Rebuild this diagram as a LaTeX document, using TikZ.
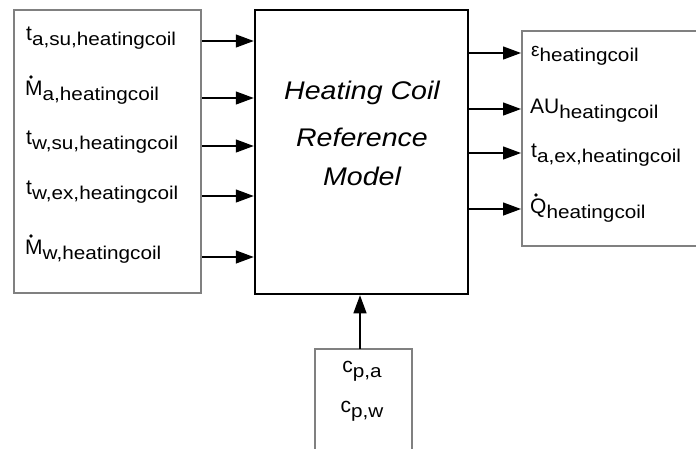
\documentclass[tikz,border=0pt]{standalone}
\usepackage{fontspec}
\setmainfont{Liberation Sans}
\newfontfamily\subfont[FakeStretch=1.12]{Liberation Sans}
\usetikzlibrary{arrows.meta}
\newcommand\mainsz{\fontsize{21}{21}\selectfont}
\newcommand\sbs[1]{\raisebox{-5pt}{\subfont\fontsize{18.5}{18.5}\selectfont #1}}
\begin{document}
\begin{tikzpicture}[x=1pt,y=-1pt,
  graybox/.style={draw=black!50, line width=2pt, fill=white, inner sep=0pt},
  mainbox/.style={draw=black, line width=2.5pt, fill=white, inner sep=0pt},
  arr/.style={line width=1.3pt, -{Triangle[length=18pt,width=13pt]}},
  lbl/.style={anchor=base west, inner sep=0pt, font=\mainsz},
  lblc/.style={anchor=base, inner sep=0pt, font=\mainsz},
  ttl/.style={anchor=base, inner sep=0pt, font=\fontsize{25.5}{25.5}\selectfont\itshape\subfont},
  dotmark/.style={fill=black}]
\clip (0,0) rectangle (696,448);
\fill[white] (0,0) rectangle (696,448);
% boxes
\node[graybox, minimum width=187pt, minimum height=283pt] (L) at (107.5,151.5) {};
\node[mainbox, minimum width=213pt, minimum height=284pt] (M) at (361.5,152) {};
\node[graybox, minimum width=176pt, minimum height=215pt] (R) at (610,138.5) {};
\node[graybox, minimum width=97pt, minimum height=104pt] (B) at (363.5,401) {};
% main text
\node[ttl] (t1) at (362,99) {Heating Coil};
\node[ttl] (t2) at (362,146) {Reference};
\node[ttl] (t3) at (362,185) {Model};
% left labels
\node[lbl] (l1) at (26,40) {t\sbs{a,su,heatingcoil}};
\node[lbl] (l2) at (25,95) {M\sbs{a,heatingcoil}};
\node[lbl] (l3) at (26,144) {t\sbs{w,su,heatingcoil}};
\node[lbl] (l4) at (26,194) {t\sbs{w,ex,heatingcoil}};
\node[lbl] (l5) at (25,254) {M\sbs{w,heatingcoil}};
\fill[dotmark] (l2.base west) ++(6,-18) circle (1.9);
\fill[dotmark] (l5.base west) ++(6,-18) circle (1.9);
% right labels
\node[lbl] (r1) at (531,56) {{\fontsize{19}{19}\selectfont ε}\sbs{heatingcoil}};
\node[lbl] (r2) at (530,113) {AU\sbs{heatingcoil}};
\node[lbl] (r3) at (531,157) {t\sbs{a,ex,heatingcoil}};
\node[lbl] (r4) at (530,213) {Q\sbs{heatingcoil}};
\fill[dotmark] (r4.base west) ++(6,-18) circle (1.9);
% bottom labels
\node[lblc] (b1) at (362,372) {c\sbs{p,a}};
\node[lblc] (b2) at (362,412) {c\sbs{p,w}};
% arrows
\foreach \i/\y in {1/41,2/98,3/146,4/196,5/257}{
  \coordinate (la\i) at (L.east |- 0,\y);
  \draw[arr] (la\i) -- (M.west |- la\i);
}
\foreach \i/\y in {1/53,2/109,3/153,4/209}{
  \coordinate (ra\i) at (M.east |- 0,\y);
  \draw[arr] (ra\i) -- (R.west |- ra\i);
}
\coordinate (ba) at (360,349);
\draw[arr] (ba) -- (M.south -| ba);
\end{tikzpicture}
\end{document}
